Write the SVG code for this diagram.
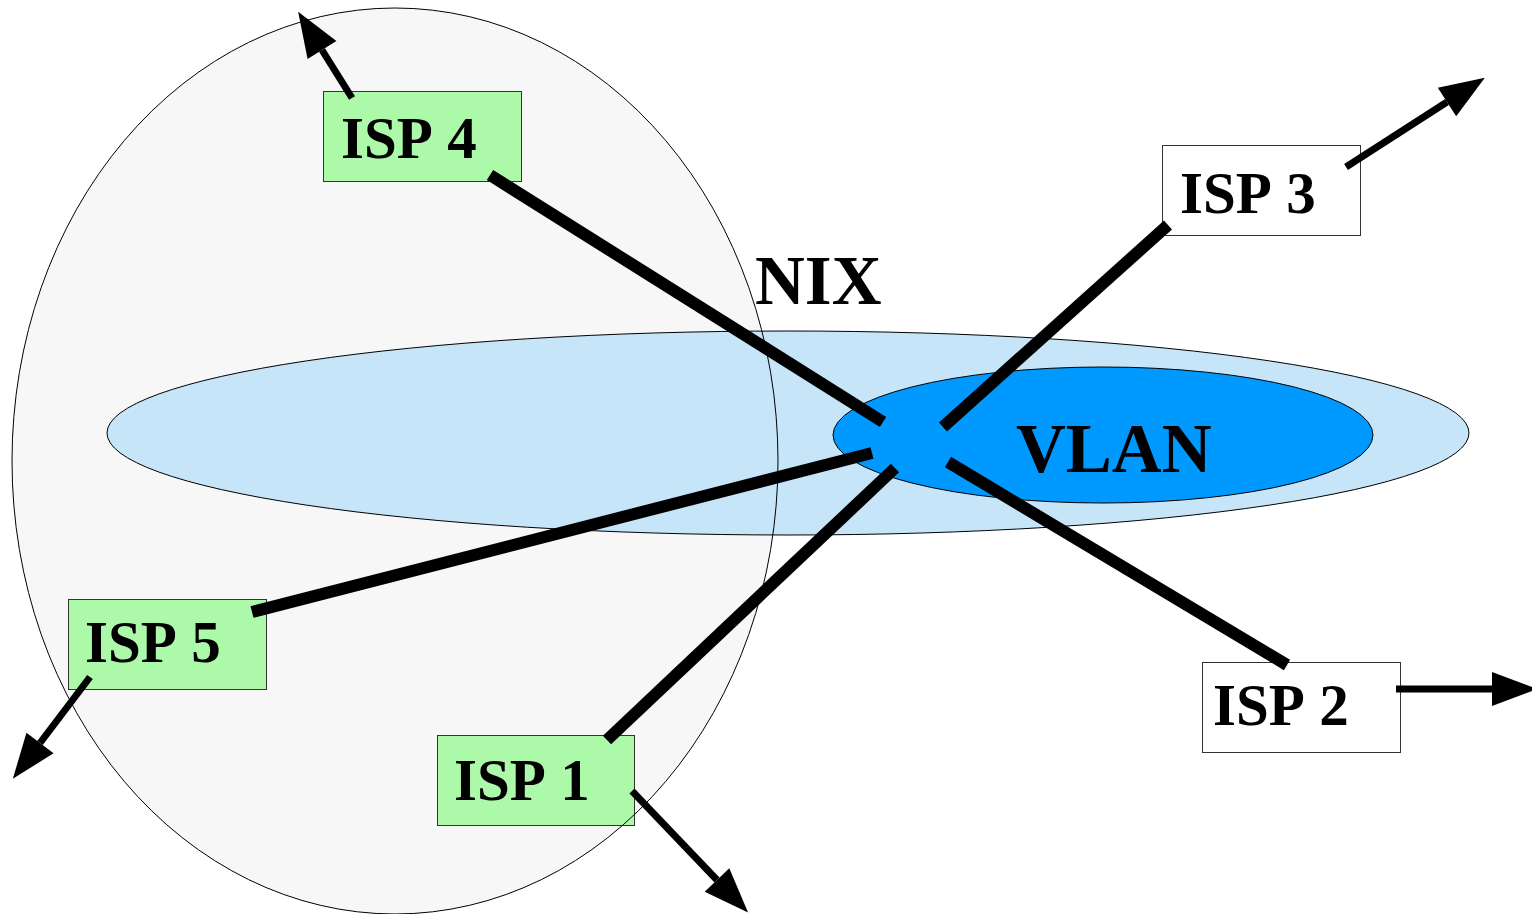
<svg xmlns="http://www.w3.org/2000/svg" width="1532" height="914" viewBox="0 0 1532 914">
  <defs>
    <marker id="head" markerUnits="userSpaceOnUse" markerWidth="46" markerHeight="36" refX="0" refY="17" orient="auto" overflow="visible">
      <path d="M0,0 L45,17 L0,34 Z" fill="#000"/>
    </marker>
    <style>
      .box { stroke: #333; stroke-width: 1; }
      .green { fill: #adf9aa; }
      .white { fill: #fff; }
      .lbl { font-family: "Liberation Serif", "Times New Roman", serif; font-weight: bold; font-size: 59px; word-spacing: 3px; fill: #000; }
      .big { font-family: "Liberation Serif", "Times New Roman", serif; font-weight: bold; font-size: 69px; fill: #000; }
      .link { stroke: #000; stroke-width: 12; stroke-linecap: butt; fill: none; }
      .out { stroke: #000; stroke-width: 7; stroke-linecap: butt; fill: none; marker-end: url(#head); }
    </style>
  </defs>

  <rect width="1532" height="914" fill="#fff"/>

  <!-- regional area -->
  <g id="region">
    <ellipse cx="395" cy="461" rx="383" ry="453" fill="#f7f7f7"/>
  </g>

  <!-- exchange point -->
  <g id="nix">
    <ellipse cx="788" cy="433" rx="681" ry="102" fill="#c6e5f8" stroke="#000" stroke-width="1"/>
    <text class="big" x="755" y="304" font-size="70">NIX</text>
  </g>

  <g id="vlan">
    <ellipse cx="1103" cy="435" rx="270" ry="68" fill="#0099ff" stroke="#000" stroke-width="1"/>
    <text class="big" x="1016" y="472">VLAN</text>
  </g>

  <g id="isp4">
    <rect class="box green" x="323.5" y="91.5" width="198" height="90"/>
    <text class="lbl" x="341" y="158">ISP 4</text>
  </g>
  <g id="isp3">
    <rect class="box white" x="1162.5" y="145.5" width="198" height="90"/>
    <text class="lbl" x="1180" y="213">ISP 3</text>
  </g>
  <g id="isp5">
    <rect class="box green" x="68.5" y="599.5" width="198" height="90"/>
    <text class="lbl" x="85" y="662">ISP 5</text>
  </g>
  <g id="isp1">
    <rect class="box green" x="437.5" y="735.5" width="197" height="90"/>
    <text class="lbl" x="454" y="800">ISP 1</text>
  </g>
  <g id="isp2">
    <rect class="box white" x="1202.5" y="662.5" width="198" height="90"/>
    <text class="lbl" x="1213" y="725">ISP 2</text>
  </g>

  <!-- outline of the regional area, drawn over the fills it crosses -->
  <g id="region-outline">
    <ellipse cx="395" cy="461" rx="383" ry="453" fill="none" stroke="#000" stroke-width="1"/>
  </g>

  <!-- connectors -->
  <g id="connectors">
    <line class="link" x1="490" y1="175" x2="883" y2="422"/>
    <line class="link" x1="1168" y1="225" x2="943" y2="427"/>
    <line class="link" x1="252" y1="612" x2="872" y2="453"/>
    <line class="link" x1="607" y1="740" x2="895" y2="468"/>
    <line class="link" x1="948" y1="462" x2="1287" y2="665"/>

    <line class="out" x1="352" y1="98" x2="322" y2="50"/>
    <line class="out" x1="1346" y1="167" x2="1447" y2="102"/>
    <line class="out" x1="90" y1="677" x2="40" y2="743"/>
    <line class="out" x1="632" y1="791" x2="717" y2="880"/>
    <line class="out" x1="1396" y1="689" x2="1492" y2="689"/>
  </g>
</svg>
